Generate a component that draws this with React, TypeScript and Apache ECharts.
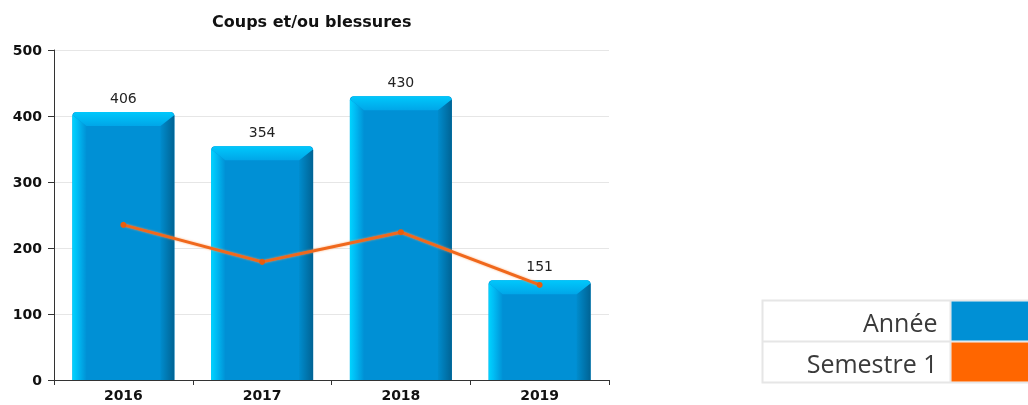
import React, { useEffect, useRef } from "react";
import * as echarts from "echarts";

const title = "Coups et/ou blessures";
const years = ["2016", "2017", "2018", "2019"];
const annee = [406, 354, 430, 151];
const semestre1 = [235, 179, 224, 144];
const legendNames = ["Année", "Semestre 1"];
const yTicks = { min: 0, max: 500, interval: 100 };

export default function App() {
  const ref = useRef<HTMLDivElement>(null);
  useEffect(() => {
    if (!ref.current) return;
    const chart = echarts.init(ref.current, null, { renderer: "svg" });
    const barData = years.map((_, i) => [i, annee[i]]);

    const renderItem = (params: any, api: any) => {
      const idx = api.value(0);
      const val = api.value(1);
      const pTop = api.coord([idx, val]);
      const pBot = api.coord([idx, 0]);
      const xc = pTop[0];
      const yTop = pTop[1];
      const yBot = pBot[1];
      const w = api.size([1, 0])[0] * 0.735;
      const x0 = xc - w / 2;
      const x1 = xc + w / 2;
      const b = 14;
      return {
        type: "group",
        children: [
          {
            type: "rect",
            shape: { x: x0, y: yTop, width: w, height: yBot - yTop, r: [4, 4, 0, 0] },
            style: { fill: "#0090d5" },
          },
          {
            type: "polygon",
            shape: { points: [[x0, yTop + 3], [x0 + b, yTop + b], [x0 + b, yBot], [x0, yBot]] },
            style: {
              fill: new echarts.graphic.LinearGradient(0, 0, 1, 0, [
                { offset: 0, color: "#00d4ff" },
                { offset: 0.35, color: "#00bdf5" },
                { offset: 1, color: "#0092d6" },
              ]),
            },
          },
          {
            type: "polygon",
            shape: { points: [[x1, yTop + 3], [x1 - b, yTop + b], [x1 - b, yBot], [x1, yBot]] },
            style: {
              fill: new echarts.graphic.LinearGradient(0, 0, 1, 0, [
                { offset: 0, color: "#008ccd" },
                { offset: 1, color: "#006394" },
              ]),
            },
          },
          {
            type: "polygon",
            shape: { points: [[x0 + 3, yTop], [x1 - 3, yTop], [x1, yTop + 3], [x1 - b, yTop + b], [x0 + b, yTop + b], [x0, yTop + 3]] },
            style: {
              fill: new echarts.graphic.LinearGradient(0, 0, 0, 1, [
                { offset: 0, color: "#00c8fc" },
                { offset: 1, color: "#00a6e8" },
              ]),
            },
          },
          {
            type: "text",
            x: xc,
            y: yTop - 14,
            style: {
              text: String(val),
              fill: "#222",
              font: "14px 'DejaVu Sans'",
              align: "center",
              verticalAlign: "middle",
            },
          },
        ],
      };
    };

    chart.setOption({
      animation: false,
      title: {
        text: title,
        left: 207,
        top: 8,
        textStyle: { fontFamily: "DejaVu Sans", fontWeight: "bold", fontSize: 16, color: "#111" },
      },
      grid: { left: 54, right: 419, top: 50, bottom: 25 },
      xAxis: {
        type: "category",
        data: years,
        axisLine: { lineStyle: { color: "#333", width: 1 } },
        axisTick: { show: true, length: 5, lineStyle: { color: "#333" } },
        axisLabel: { fontFamily: "DejaVu Sans", fontWeight: "bold", fontSize: 14, color: "#111", margin: 8 },
      },
      yAxis: {
        type: "value",
        min: yTicks.min,
        max: yTicks.max,
        interval: yTicks.interval,
        axisLine: { show: true, lineStyle: { color: "#333", width: 1 } },
        axisTick: { show: true, length: 6, lineStyle: { color: "#333" } },
        axisLabel: { fontFamily: "DejaVu Sans", fontWeight: "bold", fontSize: 14, color: "#111", margin: 12 },
        splitLine: { lineStyle: { color: "#e6e6e6" } },
      },
      series: [
        {
          type: "custom",
          name: legendNames[0],
          data: barData,
          encode: { x: 0, y: 1 },
          renderItem,
          z: 2,
        },
        {
          type: "line",
          name: legendNames[1],
          data: semestre1,
          z: 5,
          symbol: "circle",
          symbolSize: 6,
          itemStyle: { color: "#e85d0c" },
          lineStyle: { color: "#f0681a", width: 3, shadowColor: "rgba(255,150,80,0.7)", shadowBlur: 2 },
        },
      ],
      graphic: [
        {
          type: "group",
          left: 760,
          top: 298,
          children: [
            { type: "rect", shape: { x: 1, y: 1, width: 268, height: 82 }, style: { fill: "#fff", stroke: "#e6e6e6", lineWidth: 2 } },
            { type: "line", shape: { x1: 1, y1: 42, x2: 268, y2: 42 }, style: { stroke: "#e6e6e6", lineWidth: 2 } },
            { type: "line", shape: { x1: 189, y1: 1, x2: 189, y2: 83 }, style: { stroke: "#e6e6e6", lineWidth: 2 } },
            { type: "rect", shape: { x: 190, y: 2, width: 78, height: 39 }, style: { fill: "#0090d5" } },
            { type: "rect", shape: { x: 190, y: 43, width: 78, height: 39 }, style: { fill: "#ff6600" } },
            { type: "text", x: 176, y: 22, style: { text: legendNames[0], font: "25px 'Open Sans'", fill: "#3a3a3a", align: "right", verticalAlign: "middle" } },
            { type: "text", x: 176, y: 63, style: { text: legendNames[1], font: "25px 'Open Sans'", fill: "#3a3a3a", align: "right", verticalAlign: "middle" } },
          ],
        },
      ],
    });
    return () => chart.dispose();
  }, []);
  return <div ref={ref} style={{ position: "fixed", left: 0, top: 0, width: 1028, height: 405 }} />;
}
